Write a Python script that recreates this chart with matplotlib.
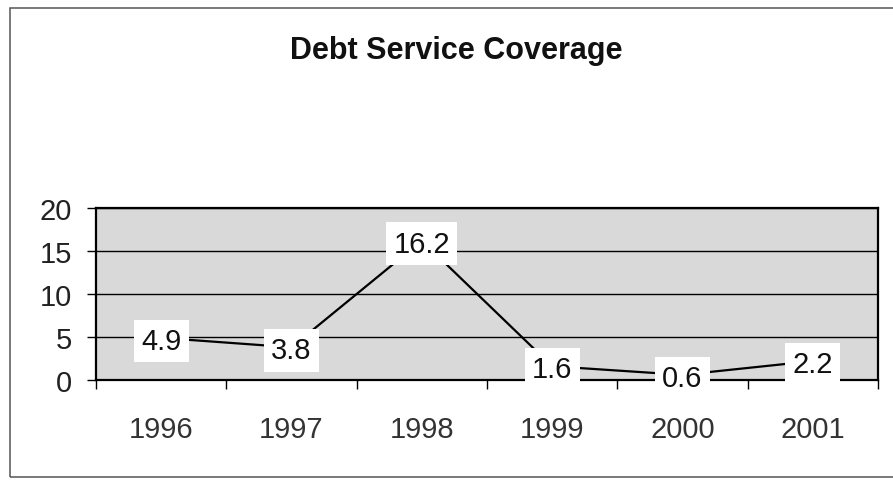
import matplotlib.pyplot as plt
from matplotlib.patches import Rectangle

# Debt service coverage ratio by year
years = ['1996', '1997', '1998', '1999', '2000', '2001']
coverage = [4.9, 3.8, 16.2, 1.6, 0.6, 2.2]
y_ticks = [0, 5, 10, 15, 20]

plt.rcParams['font.family'] = ['Liberation Sans', 'DejaVu Sans']

fig = plt.figure(figsize=(8.93, 4.81), dpi=100)
fig.patch.set_facecolor('white')

# chart frame
fig.add_artist(Rectangle((9.5 / 893, 3 / 481), 1.0, 469 / 481, transform=fig.transFigure,
                         fill=False, edgecolor='#555555', linewidth=1.1))

fig.text(0.511, 0.877, 'Debt Service Coverage', ha='center', va='baseline',
         fontsize=22, fontweight='bold', color='#111111')

ax = fig.add_axes([96 / 893, 100 / 481, 782 / 893, 172 / 481])
ax.set_facecolor('#d9d9d9')

x = list(range(len(years)))
ax.plot(x, coverage, color='black', linewidth=1.6, zorder=3)

for xi, v in zip(x, coverage):
    ax.text(xi, v, f'{v:.1f}', ha='center', va='center_baseline', fontsize=21,
            color='#111111', zorder=5, clip_on=False,
            bbox=dict(boxstyle='square,pad=0.25', facecolor='white', edgecolor='none'))

ax.set_xlim(-0.5, len(years) - 0.5)
ax.set_ylim(0, 20)

ax.set_yticks(y_ticks)
ax.set_yticklabels([str(t) for t in y_ticks])
ax.tick_params(axis='y', direction='out', length=6.5, width=1.0, pad=11,
               labelsize=21, labelcolor='#222222')
ax.yaxis.grid(True, color='black', linewidth=1.0)
ax.set_axisbelow(True)

# category labels between boundary tick marks
ax.set_xticks(x)
ax.set_xticklabels(years)
ax.set_xticks([i - 0.5 for i in range(len(years) + 1)], minor=True)
ax.tick_params(axis='x', which='major', length=0, pad=25, labelsize=21, labelcolor='#333333')
ax.tick_params(axis='x', which='minor', direction='out', length=6.5, width=1.0)

for side in ['left', 'right', 'top', 'bottom']:
    ax.spines[side].set_linewidth(1.6)
    ax.spines[side].set_color('black')

plt.savefig('out.png', dpi=100)
